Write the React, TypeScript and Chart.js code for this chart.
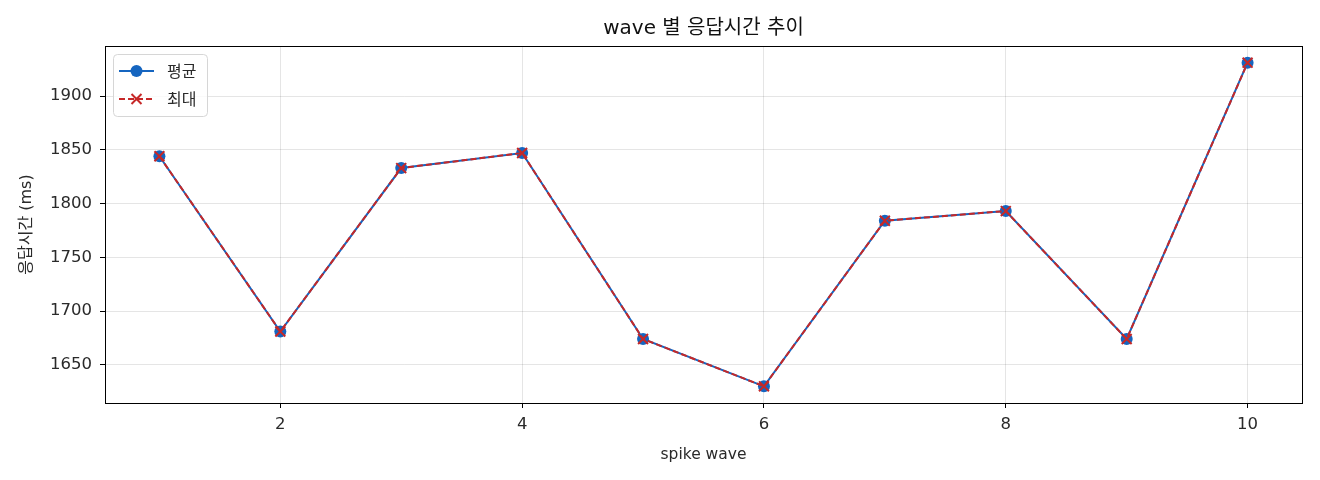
import React, { useEffect, useRef } from 'react';
import { Chart, registerables } from 'chart.js';

Chart.register(...registerables);

// spike wave 번호별 응답시간 (ms)
const waves = [1, 2, 3, 4, 5, 6, 7, 8, 9, 10];
const avgMs = [1844, 1681, 1833, 1847, 1674, 1630, 1784, 1793, 1674, 1931];
const maxMs = [1844, 1681, 1833, 1847, 1674, 1630, 1784, 1793, 1674, 1931];
const xTicks = [2, 4, 6, 8, 10];
const yTicks = [1650, 1700, 1750, 1800, 1850, 1900];
const chartTitle = 'wave 별 응답시간 추이';

const BLUE = '#1565c0';
const RED = '#c62828';
const TEXT = '#2a2a2a';
const FONT = '"DejaVu Sans", "Noto Sans CJK KR", sans-serif';
const KR_FONT = '"Noto Sans CJK KR", "DejaVu Sans", sans-serif';

// 축 테두리, 제목(플롯 영역 가운데), 플롯 안쪽 범례 — matplotlib 스타일
const framePlugin = {
  id: 'frame',
  afterDraw(chart: Chart) {
    const { ctx, chartArea: a } = chart;
    ctx.save();
    ctx.strokeStyle = '#000';
    ctx.lineWidth = 1;
    ctx.strokeRect(a.left + 0.5, a.top + 0.5, a.right - a.left, a.bottom - a.top);

    // title
    ctx.fillStyle = '#111';
    ctx.font = `20px ${FONT}`;
    ctx.textAlign = 'center';
    ctx.textBaseline = 'middle';
    ctx.fillText(chartTitle, (a.left + a.right) / 2, 29);
    ctx.textAlign = 'left';

    // legend box
    const bx = a.left + 8, by = a.top + 8, bw = 94, bh = 62;
    ctx.beginPath();
    ctx.roundRect(bx + 0.5, by + 0.5, bw, bh, 4);
    ctx.fillStyle = 'rgba(255,255,255,0.8)';
    ctx.fill();
    ctx.strokeStyle = '#d6d6d6';
    ctx.stroke();

    chart.data.datasets.forEach((ds: any, i: number) => {
      const y = by + 17 + i * 28;
      const x0 = bx + 6, x1 = bx + 41, xm = (x0 + x1) / 2;
      ctx.strokeStyle = ds.borderColor;
      ctx.lineWidth = 2;
      ctx.setLineDash(ds.borderDash || []);
      ctx.beginPath();
      ctx.moveTo(x0, y);
      ctx.lineTo(x1, y);
      ctx.stroke();
      ctx.setLineDash([]);
      if (ds.pointStyle === 'circle') {
        ctx.fillStyle = ds.pointBackgroundColor;
        ctx.beginPath();
        ctx.arc(xm, y, 6, 0, Math.PI * 2);
        ctx.fill();
      } else {
        ctx.strokeStyle = ds.pointBorderColor;
        ctx.lineWidth = 2;
        ctx.beginPath();
        ctx.moveTo(xm - 5, y - 5);
        ctx.lineTo(xm + 5, y + 5);
        ctx.moveTo(xm + 5, y - 5);
        ctx.lineTo(xm - 5, y + 5);
        ctx.stroke();
      }
      ctx.fillStyle = TEXT;
      ctx.font = `16px ${KR_FONT}`;
      ctx.textBaseline = 'middle';
      ctx.fillText(ds.label, bx + 54, y);
    });
    ctx.restore();
  },
};

const ResponseTimeChart: React.FC = () => {
  const canvasRef = useRef<HTMLCanvasElement | null>(null);
  const chartRef = useRef<Chart | null>(null);

  useEffect(() => {
    document.body.style.margin = '0';
    if (!canvasRef.current) return;
    if (chartRef.current) chartRef.current.destroy();

    chartRef.current = new Chart(canvasRef.current, {
      type: 'line',
      data: {
        datasets: [
          {
            label: '평균',
            data: waves.map((w, i) => ({ x: w, y: avgMs[i] })),
            order: 2,
            borderColor: BLUE,
            backgroundColor: BLUE,
            borderWidth: 2,
            pointStyle: 'circle',
            pointRadius: 6,
            pointBackgroundColor: BLUE,
            pointBorderColor: BLUE,
            pointBorderWidth: 0,
          },
          {
            label: '최대',
            data: waves.map((w, i) => ({ x: w, y: maxMs[i] })),
            order: 1,
            borderColor: RED,
            backgroundColor: RED,
            borderWidth: 2,
            borderDash: [6, 3],
            pointStyle: 'crossRot',
            pointRadius: 7,
            pointBorderColor: RED,
            pointBorderWidth: 2,
          },
        ],
      },
      options: {
        animation: false,
        responsive: false,
        devicePixelRatio: 1,
        layout: { padding: { left: 0, right: 18, top: 46, bottom: 0 } },
        plugins: {
          legend: { display: false },
          tooltip: { enabled: false },
          title: { display: false },
        },
        scales: {
          x: {
            type: 'linear',
            min: 0.55,
            max: 10.45,
            afterBuildTicks: (s: any) => {
              s.ticks = xTicks.map((v) => ({ value: v }));
            },
            afterFit: (s: any) => {
              s.height = 77;
            },
            grid: { color: 'rgba(0,0,0,0.1)', tickColor: '#000', tickLength: 5 },
            border: { display: false },
            ticks: {
              color: TEXT,
              font: { family: FONT, size: 16.5 },
              padding: 7,
              callback: (v: any) => String(v),
            },
            title: {
              display: true,
              text: 'spike wave',
              color: TEXT,
              font: { family: FONT, size: 15.5 },
              padding: { top: 0, bottom: 16 },
            },
          },
          y: {
            type: 'linear',
            min: 1614.5,
            max: 1946.5,
            afterBuildTicks: (s: any) => {
              s.ticks = yTicks.map((v) => ({ value: v }));
            },
            afterFit: (s: any) => {
              s.width = 105;
            },
            grid: { color: 'rgba(0,0,0,0.1)', tickColor: '#000', tickLength: 5 },
            border: { display: false },
            ticks: {
              color: TEXT,
              font: { family: FONT, size: 16.5 },
              padding: 8,
              callback: (v: any) => String(v),
            },
            title: {
              display: true,
              text: '응답시간 (ms)',
              color: TEXT,
              font: { family: FONT, size: 16 },
              padding: { top: 17, bottom: 0 },
            },
          },
        },
      },
      plugins: [framePlugin],
    });

    return () => {
      if (chartRef.current) {
        chartRef.current.destroy();
        chartRef.current = null;
      }
    };
  }, []);

  return (
    <div style={{ width: 1320, height: 480, background: '#fff' }}>
      <canvas ref={canvasRef} width={1320} height={480} />
    </div>
  );
};

export default function App() {
  return <ResponseTimeChart />;
}
